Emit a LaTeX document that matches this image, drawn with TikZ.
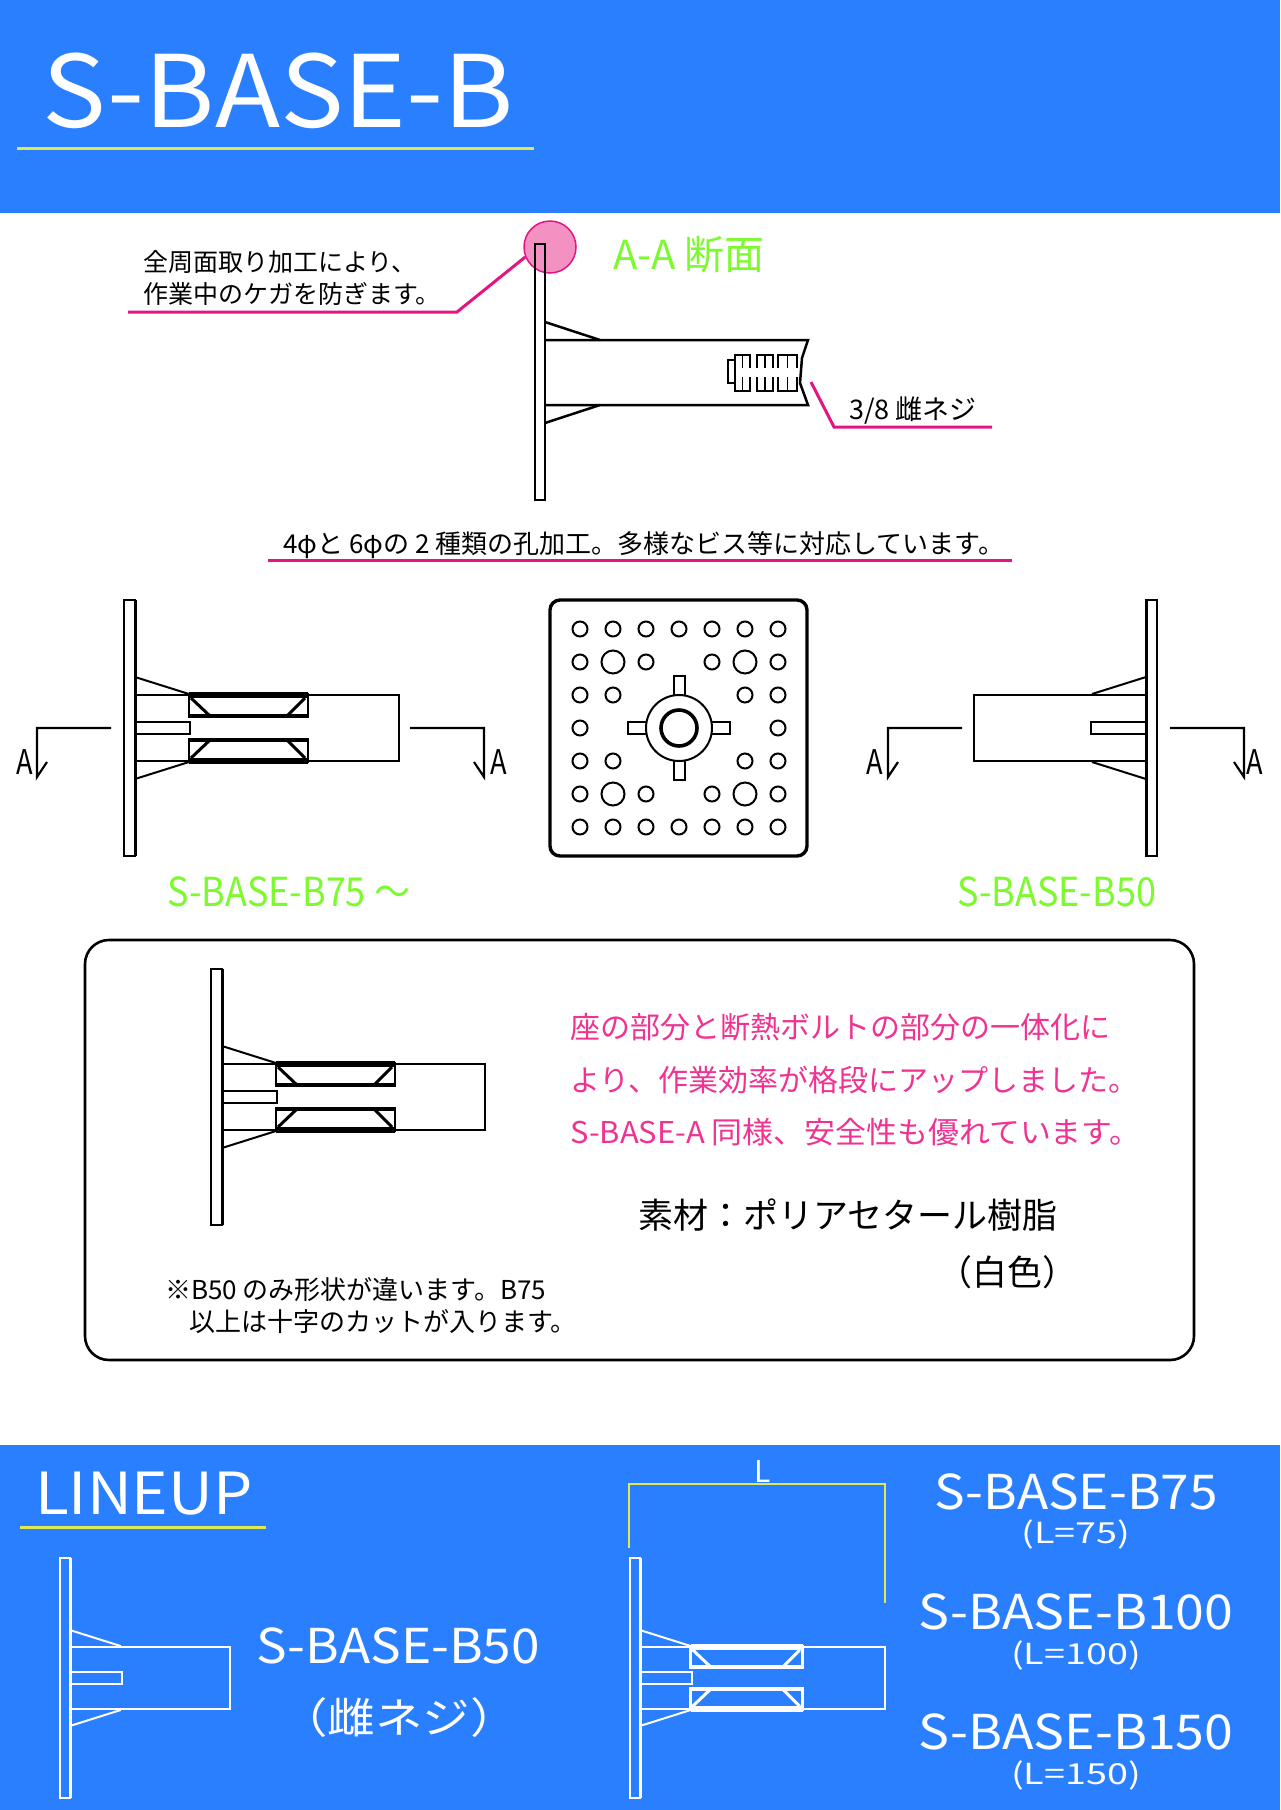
\documentclass[tikz,border=0pt]{standalone}
\usepackage{fontspec}
\setmainfont{Noto Sans CJK JP}
\usetikzlibrary{positioning, calc}
\definecolor{bandblue}{RGB}{42, 127, 255}
\definecolor{leadpink}{RGB}{228, 20, 130}
\definecolor{notepink}{RGB}{240, 50, 145}
\definecolor{markpink}{RGB}{243, 145, 195}
\definecolor{labelgreen}{RGB}{125, 250, 45}
\definecolor{ruleyellow}{RGB}{225, 232, 85}

\tikzset{
  txt/.style={inner sep=0pt, anchor=west, font=\fontsize{#1}{#1}\selectfont},
  txt/.default=26,
  wide/.style={xscale=#1, transform shape},
  leader/.style={draw=leadpink, line width=3pt},
  ruleline/.style={draw=ruleyellow, line width=3pt},
  hole/.style={draw, line width=2pt},
  pics/boltbody/.style={code={
    \draw[line width=2pt] (-11,-128) rectangle (0,128);
    \draw[line width=3pt] (0,-128) -- (0,128);
    \draw[line width=2pt] (0,-51) -- (54,-34) (0,51) -- (54,34);
    \draw[line width=2pt] (0,-33) -| (#1,33) -- (0,33);
    \draw[line width=2pt] (0,-6) -| (55,6) -- (0,6);
  }},
  pics/boltinsert/.style={code={
    \draw[line width=2.8pt] (54,-34) rectangle (173,-11);
    \draw[line width=2.8pt] (54,11) rectangle (173,34);
    \draw[line width=5.5pt] (54,-33) -- (173,-33) (54,33) -- (173,33);
    \draw[line width=4pt] (54,-12) -- (173,-12) (54,12) -- (173,12);
    \draw[line width=3pt] (56,-30) -- (75,-12) (170,-30) -- (152,-12);
    \draw[line width=3pt] (56,30) -- (75,12) (170,30) -- (152,12);
  }},
  pics/cutmark/.style={code={
    \draw[line width=2.2pt] (0,0) -- (74,0) -- (74,49) -- (#1,34);
  }},
}

\begin{document}
\begin{tikzpicture}[x=1pt, y=-1pt]
  \useasboundingbox (0,0) rectangle (1280,1810);
  \fill[bandblue] (0,0) rectangle (1280,213);
  \fill[bandblue] (0,1445) rectangle (1280,1810);

  % header
  \node[txt=100, wide=1.07, text=white] (title) at (42,91) {S-BASE-B};
  \coordinate (titleruleL) at (17,148);
  \coordinate (titleruleR) at (534,148);
  \draw[ruleline] (titleruleL) -- (titleruleR);

  % A-A section
  \node[circle, draw=leadpink, fill=markpink, line width=1.5pt, minimum size=52pt, inner sep=0pt] (chamfer) at (550,247) {};
  \draw[line width=2.5pt] (535,244) rectangle (545,500);
  \draw[line width=2.5pt] (545,322) -- (600,340) (545,423) -- (600,405);
  \draw[line width=2.5pt] (545,340) -- (808,340) -- (802,358) -- (800,383) -- (808,405) -- (545,405);
  \draw[line width=1.6pt] (735,360) -- (728,360) -- (728,383) -- (735,383) (735,368) -- (735,377);
  \foreach \tx/\tw in {735/15,757/16,778/19} {
    \draw[line width=1.6pt] (\tx,368) -- (\tx,355) -- (\tx+\tw,355) -- (\tx+\tw,368) (\tx+\tw/2,355) -- (\tx+\tw/2,368);
    \draw[line width=1.6pt] (\tx,377) -- (\tx,391) -- (\tx+\tw,391) -- (\tx+\tw,377) (\tx+\tw/2,391) -- (\tx+\tw/2,377);
  }
  \node[txt=40, text=labelgreen] (aasection) at (613,255) {A-A 断面};
  \node[txt=25] (chamfertxt1) at (143,262) {全周面取り加工により、};
  \node[txt=25] (chamfertxt2) at (143,294) {作業中のケガを防ぎます。};
  \coordinate (chamferL) at (128,312);
  \coordinate (chamferK) at (457,312);
  \draw[leader] (chamferL) -- (chamferK) -- (chamfer.202);
  \node[txt=27] (threadtxt) at (849,411) {3/8 雌ネジ};
  \coordinate (threadA) at (811,382);
  \coordinate (threadK) at (834,427);
  \coordinate (threadR) at (992,427);
  \draw[leader] (threadA) -- (threadK) -- (threadR);

  \node[txt] (holetxt) at (283,545) {4φと 6φの 2 種類の孔加工。多様なビス等に対応しています。};
  \coordinate (holeruleL) at (268,560);
  \coordinate (holeruleR) at (1012,560);
  \draw[leader] (holeruleL) -- (holeruleR);

  % three views
  \pic at (135,728) {boltbody=264};
  \pic at (135,728) {boltinsert};
  \pic[xscale=-1] at (111,728) {cutmark=64};
  \pic at (410,728) {cutmark=64};
  \node[txt=34, wide=.8] (cutL1) at (16,762) {A};
  \node[txt=34, wide=.8] (cutR1) at (490,762) {A};
  \node[txt=40, wide=.9, text=labelgreen] (b75green) at (167,892) {S-BASE-B75 〜};

  \draw[line width=3.4pt, rounded corners=10pt] (550,600) rectangle (807,856);
  \foreach \cx in {580,613,646,679,712,745,778} {
    \foreach \cy in {629,827} \draw[hole] (\cx,\cy) circle (7.5);
  }
  \foreach \cx/\cy in {580/662,646/662,712/662,778/662,580/695,613/695,745/695,778/695,580/728,778/728,
    580/761,613/761,745/761,778/761,580/794,646/794,712/794,778/794}
    \draw[hole] (\cx,\cy) circle (7.5);
  \foreach \cx/\cy in {613/662,745/662,613/794,745/794}
    \draw[hole] (\cx,\cy) circle (11.5);
  \draw[hole] (674,695) -- (674,676) -- (685,676) -- (685,695);
  \draw[hole] (674,761) -- (674,780) -- (685,780) -- (685,761);
  \draw[hole] (646,722) -- (628,722) -- (628,734) -- (646,734);
  \draw[hole] (712,722) -- (730,722) -- (730,734) -- (712,734);
  \draw[hole] (679,728) circle (33);
  \draw[line width=3.6pt] (679,728) circle (18);

  \pic[xscale=-1] at (1146,728) {boltbody=172};
  \pic[xscale=-1] at (962,728) {cutmark=64};
  \pic at (1170,728) {cutmark=64};
  \node[txt=34, wide=.8] (cutL2) at (866,762) {A};
  \node[txt=34, wide=.8] (cutR2) at (1246,762) {A};
  \node[txt=40, wide=.9, text=labelgreen] (b50green) at (957,892) {S-BASE-B50};

  % note box
  \draw[line width=2.6pt, rounded corners=24pt] (85,940) rectangle (1194,1360);
  \pic at (222,1097) {boltbody=263};
  \pic at (222,1097) {boltinsert};
  \node[txt=30, text=notepink] (note1) at (570,1027) {座の部分と断熱ボルトの部分の一体化に};
  \node[txt=30, text=notepink] (note2) at (570,1080) {より、作業効率が格段にアップしました。};
  \node[txt=30, wide=1.03, text=notepink] (note3) at (570,1132) {S-BASE-A 同様、安全性も優れています。};
  \node[txt=35] (material) at (638,1215) {素材：ポリアセタール樹脂};
  \node[txt=35] (whitetxt) at (937,1272) {（白色）};
  \node[txt] (diff1) at (165,1290) {※B50 のみ形状が違います。B75};
  \node[txt] (diff2) at (189,1322) {以上は十字のカットが入ります。};

  % lineup
  \node[txt=58, wide=1.07, text=white] (lineup) at (35,1494) {LINEUP};
  \coordinate (lineupL) at (20,1527);
  \coordinate (lineupR) at (266,1527);
  \draw[ruleline] (lineupL) -- (lineupR);
  \pic[color=white, scale=.94] at (70,1678) {boltbody=170};
  \node[txt=48, wide=1.07, text=white] (b50) at (256,1646) {S-BASE-B50};
  \node[txt=42, wide=1.13, text=white] (b50sub) at (280,1718) {（雌ネジ）};

  \pic[color=white, scale=.94] at (640,1678) {boltbody=261};
  \pic[color=white, scale=.94] at (640,1678) {boltinsert};
  \coordinate (dimA) at (629,1548);
  \coordinate (dimB) at (885,1603);
  \draw[ruleline, line width=2.5pt] (dimA) |- (dimB |- 0,1484) -- (dimB);
  \node[txt=30, text=white] (dimL) at (754,1471) {L};
  \node[txt=48, wide=1.07, text=white, anchor=center] (b75) at (1076,1492) {S-BASE-B75};
  \node[txt=29, wide=1.3, text=white, anchor=center] (b75sub) at (1076,1534) {(L=75)};
  \node[txt=48, wide=1.08, text=white, anchor=center] (b100) at (1076,1612) {S-BASE-B100};
  \node[txt=29, wide=1.3, text=white, anchor=center] (b100sub) at (1076,1655) {(L=100)};
  \node[txt=48, wide=1.08, text=white, anchor=center] (b150) at (1076,1732) {S-BASE-B150};
  \node[txt=29, wide=1.3, text=white, anchor=center] (b150sub) at (1076,1775) {(L=150)};
\end{tikzpicture}
\end{document}
